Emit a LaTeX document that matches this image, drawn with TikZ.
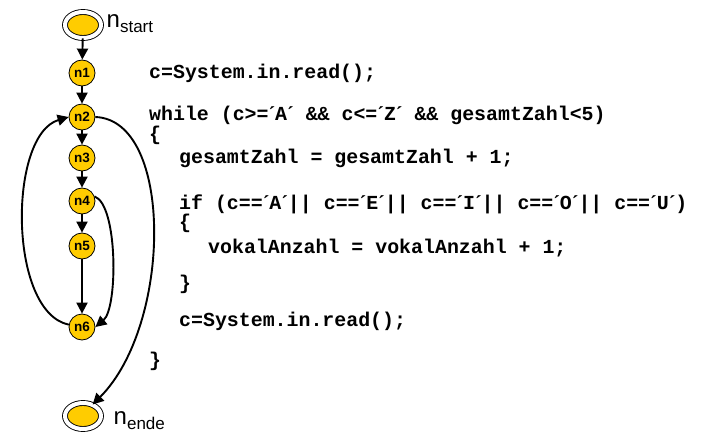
\documentclass[tikz,border=0pt]{standalone}
\usepackage{fontspec}
\setmainfont{Liberation Sans}
\newfontfamily\codefont{Liberation Mono}
\newfontfamily\accfont{Liberation Serif}
\usetikzlibrary{arrows.meta,shapes.geometric}
\definecolor{nodeyellow}{RGB}{255,204,0}
\newcommand{\ac}{{\accfont\bfseries ´}}
\begin{document}
\begin{tikzpicture}[x=1pt,y=-1pt,
  cfg/.style={circle, draw, line width=0.8pt, fill=nodeyellow, minimum size=26pt, inner sep=0pt, font=\fontsize{13.5}{13.5}\selectfont\bfseries},
  term/.style={ellipse, draw, line width=0.9pt, double=white, double distance=4pt, fill=nodeyellow, minimum width=36pt, minimum height=26pt, inner sep=0pt},
  flow/.style={line width=1.9pt, -{Triangle[length=11pt,width=11pt]}},
  code/.style={anchor=base west, inner sep=0pt, font=\codefont\bfseries\fontsize{19.9}{20}\selectfont},
  lbl/.style={anchor=base west, inner sep=0pt, font=\fontsize{24}{24}\selectfont}]
\useasboundingbox (0,0) rectangle (701,433);
% nodes
\node[term] (nstart) at (83,25) {};
\node[cfg] (n1) at (82,73) {n1};
\node[cfg] (n2) at (82,117) {n2};
\node[cfg] (n3) at (82,158) {n3};
\node[cfg] (n4) at (82,201) {n4};
\node[cfg] (n5) at (82,246) {n5};
\node[cfg] (n6) at (82,327) {n6};
\node[term] (nende) at (83,416) {};
% labels
\node[lbl] (lstart) at (106.5,28) {n\raisebox{-5pt}{\fontsize{17}{17}\selectfont start}};
\node[lbl] (lende) at (113.5,424) {n\raisebox{-5pt}{\fontsize{17}{17}\selectfont ende}};
% straight edges
\draw[flow] (nstart) -- (n1);
\draw[flow] (n1) -- (n2);
\draw[flow] (n2) -- (n3);
\draw[flow] (n3) -- (n4);
\draw[flow] (n4) -- (n5);
\draw[flow] (n5) -- (n6);
% curved edges
\draw[flow] (n6.170) .. controls (8,312) and (8,135) .. (n2.west);
\draw[flow] (n4.20) .. controls (118,205) and (118,308) .. (n6.east);
\draw[flow] (n2.east) .. controls (174,120) and (172,325) .. (nende.50);
% code
\node[code] (c1) at (149,79) {c=System.in.read();};
\node[code] (c2) at (149,121) {while (c>=\ac A\ac{} \&\& c<=\ac Z\ac{} \&\& gesamtZahl<5)};
\node[code] (c3) at (149,140) {\{};
\node[code] (c4) at (179,163) {gesamtZahl = gesamtZahl + 1;};
\node[code] (c5) at (179,209) {if (c==\ac A\ac|| c==\ac E\ac|| c==\ac I\ac|| c==\ac O\ac|| c==\ac U\ac)};
\node[code] (c6) at (179,228) {\{};
\node[code] (c7) at (208,253) {vokalAnzahl = vokalAnzahl + 1;};
\node[code] (c8) at (179,289) {\}};
\node[code] (c9) at (179,326) {c=System.in.read();};
\node[code] (c10) at (149,366) {\}};
\end{tikzpicture}
\end{document}
